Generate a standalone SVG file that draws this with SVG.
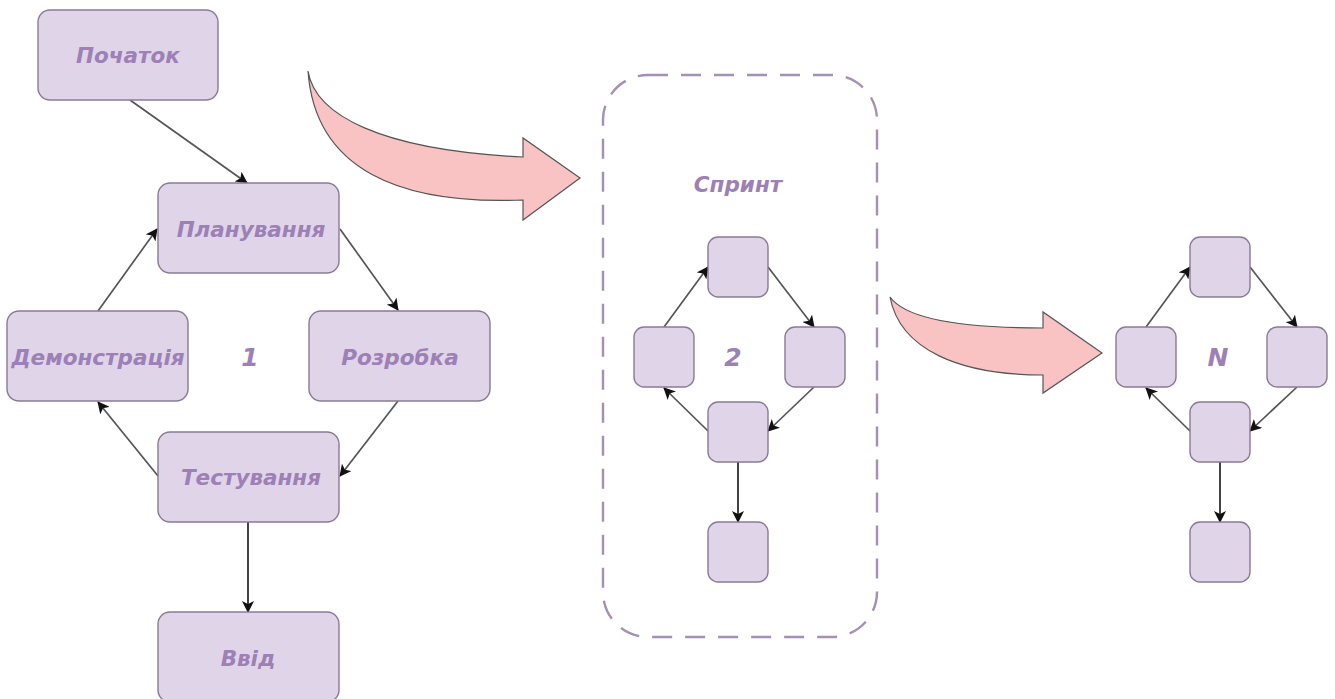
<svg xmlns="http://www.w3.org/2000/svg" width="1335" height="699" viewBox="0 0 1335 699">
  <defs>
    <style>
      .box { fill: #e0d4e8; stroke: #8a7b95; stroke-width: 1.4; }
      .lbl { font-family: "DejaVu Sans", Verdana, sans-serif; font-weight: bold; font-style: italic; font-size: 21.5px; fill: #9c80b6; text-anchor: middle; dominant-baseline: central; }
      .num { font-size: 25px; }
      .edge { fill: none; stroke: #555; stroke-width: 1.7; marker-end: url(#ah); }
      .edge.down { stroke: #222; }
      .bigarrow { fill: #f9c3c3; stroke: #555; stroke-width: 1.2; stroke-linejoin: miter; }
      .frame { fill: none; stroke: #a58fb4; stroke-width: 2.4; stroke-dasharray: 20 13; }
    </style>
    <marker id="ah" markerWidth="13" markerHeight="12" refX="11" refY="6" orient="auto" markerUnits="userSpaceOnUse">
      <path d="M0,0 L12,6 L0,12 L3,6 z" fill="#111"/>
    </marker>
  </defs>

  <rect width="1335" height="699" fill="#ffffff"/>

  <!-- sprint frame -->
  <rect class="frame" x="603" y="75" width="274" height="562" rx="45" ry="45"/>

  <!-- transition arrows between iterations -->
  <g id="transition-1">
    <path class="bigarrow" d="M308,71 C315,115 380,150 523,157 L523,138 L580,178 L523,220 L523,200 C400,205 315,170 308,71 Z"/>
  </g>
  <g id="transition-2">
    <path class="bigarrow" d="M890,297 C905,318 960,328 1043,328 L1043,312 L1102,353 L1043,393 L1043,375 C960,375 900,350 890,297 Z"/>
  </g>

  <!-- connectors -->
  <g id="connectors">
    <!-- iteration 1 -->
    <line class="edge" x1="130" y1="100" x2="247" y2="183"/>
    <line class="edge" x1="98" y1="311" x2="157" y2="229"/>
    <line class="edge" x1="340" y1="229" x2="398" y2="310"/>
    <line class="edge" x1="398" y1="401" x2="340" y2="476"/>
    <line class="edge" x1="158" y1="476" x2="98" y2="402"/>
    <line class="edge down" x1="248" y1="522" x2="248" y2="612"/>
    <!-- iteration 2 -->
    <line class="edge" x1="664" y1="327" x2="708" y2="267"/>
    <line class="edge" x1="768" y1="267" x2="814" y2="327"/>
    <line class="edge" x1="814" y1="387" x2="768" y2="431"/>
    <line class="edge" x1="708" y1="431" x2="664" y2="388"/>
    <line class="edge down" x1="738" y1="462" x2="738" y2="522"/>
    <!-- iteration N -->
    <line class="edge" x1="1146" y1="327" x2="1190" y2="267"/>
    <line class="edge" x1="1250" y1="267" x2="1297" y2="327"/>
    <line class="edge" x1="1297" y1="387" x2="1250" y2="431"/>
    <line class="edge" x1="1190" y1="431" x2="1146" y2="388"/>
    <line class="edge down" x1="1220" y1="462" x2="1220" y2="522"/>
  </g>

  <!-- iteration 1 nodes -->
  <g id="start"><rect class="box" x="38" y="10" width="180" height="90" rx="12"/><text class="lbl" x="128" y="55">Початок</text></g>
  <g id="planning"><rect class="box" x="158" y="183" width="181" height="90" rx="12"/><text class="lbl" x="251" y="229">Планування</text></g>
  <g id="demo"><rect class="box" x="7" y="311" width="181" height="90" rx="12"/><text class="lbl" x="98" y="357">Демонстрація</text></g>
  <g id="dev"><rect class="box" x="309" y="311" width="181" height="90" rx="12"/><text class="lbl" x="400" y="357">Розробка</text></g>
  <g id="testing"><rect class="box" x="158" y="432" width="181" height="90" rx="12"/><text class="lbl" x="251" y="477">Тестування</text></g>
  <g id="release"><rect class="box" x="158" y="612" width="181" height="90" rx="12"/><text class="lbl" x="248" y="658">Ввід</text></g>
  <text class="lbl num" x="250" y="357">1</text>

  <!-- iteration 2 nodes -->
  <text class="lbl" x="738" y="184">Спринт</text>
  <g id="s2-top"><rect class="box" x="708" y="237" width="60" height="60" rx="10"/></g>
  <g id="s2-left"><rect class="box" x="634" y="327" width="60" height="60" rx="10"/></g>
  <g id="s2-right"><rect class="box" x="785" y="327" width="60" height="60" rx="10"/></g>
  <g id="s2-mid"><rect class="box" x="708" y="402" width="60" height="60" rx="10"/></g>
  <g id="s2-end"><rect class="box" x="708" y="522" width="60" height="60" rx="10"/></g>
  <text class="lbl num" x="733" y="357">2</text>

  <!-- iteration N nodes -->
  <g id="sn-top"><rect class="box" x="1190" y="237" width="60" height="60" rx="10"/></g>
  <g id="sn-left"><rect class="box" x="1116" y="327" width="60" height="60" rx="10"/></g>
  <g id="sn-right"><rect class="box" x="1267" y="327" width="60" height="60" rx="10"/></g>
  <g id="sn-mid"><rect class="box" x="1190" y="402" width="60" height="60" rx="10"/></g>
  <g id="sn-end"><rect class="box" x="1190" y="522" width="60" height="60" rx="10"/></g>
  <text class="lbl num" x="1218" y="357">N</text>
</svg>
